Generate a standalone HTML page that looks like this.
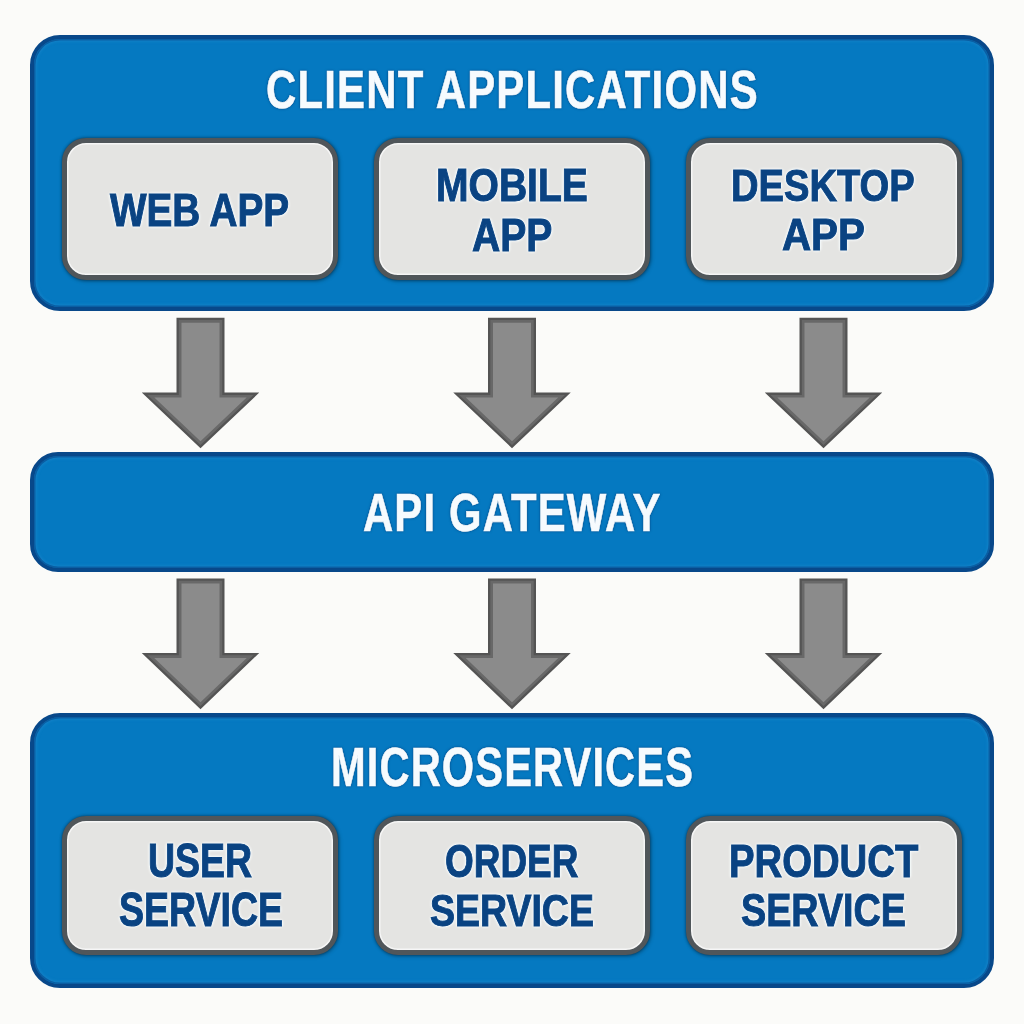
<!DOCTYPE html>
<html><head><meta charset="utf-8"><style>
html,body{margin:0;padding:0;width:1024px;height:1024px;overflow:hidden;background:#fbfbf9;}
.abs{position:absolute;box-sizing:border-box;}
.big{position:absolute;box-sizing:border-box;background:#0579c1;border:4px solid #08488a;box-shadow:inset 0 0 0 1.5px #0a5ea3, inset 0 0 3px 2.5px rgba(60,160,225,0.25);}
.card{position:absolute;box-sizing:border-box;background:#e4e4e2;border:5px solid #50565a;border-radius:24px;
  box-shadow:0 0 3px rgba(0,0,0,0.45), 1px 1px 4px rgba(0,0,0,0.3), inset 0 0 0 1.5px #f6f6f6;}
.t{position:absolute;font-family:"Liberation Sans",sans-serif;font-weight:bold;line-height:1;white-space:nowrap;transform-origin:0 0;}
svg{position:absolute;left:0;top:0;}
</style></head><body>
<div class="big" style="left:30px;top:35px;width:964px;height:276px;border-radius:30px;"></div>
<div class="card" style="left:62px;top:138px;width:276px;height:142px;"></div>
<div class="card" style="left:374px;top:138px;width:276px;height:142px;"></div>
<div class="card" style="left:686px;top:138px;width:276px;height:142px;"></div>
<div class="big" style="left:30px;top:452px;width:964px;height:120px;border-radius:28px;"></div>
<div class="big" style="left:30px;top:713px;width:964px;height:275px;border-radius:30px;"></div>
<div class="card" style="left:62px;top:816px;width:276px;height:139px;"></div>
<div class="card" style="left:374px;top:816px;width:276px;height:139px;"></div>
<div class="card" style="left:686px;top:816px;width:276px;height:139px;"></div>
<svg width="1024" height="1024" viewBox="0 0 1024 1024">
<polygon points="176.50,317.80 224.50,317.80 224.50,392.60 259.25,392.60 200.50,448.20 141.75,392.60 176.50,392.60" fill="#545454"/><polygon points="178.80,320.10 222.20,320.10 222.20,394.90 253.47,394.90 200.50,445.03 147.53,394.90 178.80,394.90" fill="#686868"/><polygon points="181.50,322.80 219.50,322.80 219.50,397.60 246.69,397.60 200.50,441.32 154.31,397.60 181.50,397.60" fill="#8b8b8b"/>
<polygon points="488.00,317.80 536.00,317.80 536.00,392.60 570.75,392.60 512.00,448.20 453.25,392.60 488.00,392.60" fill="#545454"/><polygon points="490.30,320.10 533.70,320.10 533.70,394.90 564.97,394.90 512.00,445.03 459.03,394.90 490.30,394.90" fill="#686868"/><polygon points="493.00,322.80 531.00,322.80 531.00,397.60 558.19,397.60 512.00,441.32 465.81,397.60 493.00,397.60" fill="#8b8b8b"/>
<polygon points="799.50,317.80 847.50,317.80 847.50,392.60 882.25,392.60 823.50,448.20 764.75,392.60 799.50,392.60" fill="#545454"/><polygon points="801.80,320.10 845.20,320.10 845.20,394.90 876.47,394.90 823.50,445.03 770.53,394.90 801.80,394.90" fill="#686868"/><polygon points="804.50,322.80 842.50,322.80 842.50,397.60 869.69,397.60 823.50,441.32 777.31,397.60 804.50,397.60" fill="#8b8b8b"/>
<polygon points="176.50,578.50 224.50,578.50 224.50,653.00 259.25,653.00 200.50,709.30 141.75,653.00 176.50,653.00" fill="#545454"/><polygon points="178.80,580.80 222.20,580.80 222.20,655.30 253.53,655.30 200.50,706.11 147.47,655.30 178.80,655.30" fill="#686868"/><polygon points="181.50,583.50 219.50,583.50 219.50,658.00 246.81,658.00 200.50,702.37 154.19,658.00 181.50,658.00" fill="#8b8b8b"/>
<polygon points="488.00,578.50 536.00,578.50 536.00,653.00 570.75,653.00 512.00,709.30 453.25,653.00 488.00,653.00" fill="#545454"/><polygon points="490.30,580.80 533.70,580.80 533.70,655.30 565.03,655.30 512.00,706.11 458.97,655.30 490.30,655.30" fill="#686868"/><polygon points="493.00,583.50 531.00,583.50 531.00,658.00 558.31,658.00 512.00,702.37 465.69,658.00 493.00,658.00" fill="#8b8b8b"/>
<polygon points="799.50,578.50 847.50,578.50 847.50,653.00 882.25,653.00 823.50,709.30 764.75,653.00 799.50,653.00" fill="#545454"/><polygon points="801.80,580.80 845.20,580.80 845.20,655.30 876.53,655.30 823.50,706.11 770.47,655.30 801.80,655.30" fill="#686868"/><polygon points="804.50,583.50 842.50,583.50 842.50,658.00 869.81,658.00 823.50,702.37 777.19,658.00 804.50,658.00" fill="#8b8b8b"/>
</svg>
<div class="t" style="left:266.06px;top:62.78px;font-size:53.38px;letter-spacing:1.5px;transform:scaleX(0.7854);color:#f6fbfe;-webkit-text-stroke:0.6px #f6fbfe;text-shadow:0 0 2px rgba(0,45,100,0.8), 0 0 3px rgba(0,45,100,0.5);filter:blur(0.35px);">CLIENT APPLICATIONS</div>
<div class="t" style="left:362.58px;top:485.65px;font-size:53.89px;letter-spacing:1.5px;transform:scaleX(0.7764);color:#f6fbfe;-webkit-text-stroke:0.6px #f6fbfe;text-shadow:0 0 2px rgba(0,45,100,0.8), 0 0 3px rgba(0,45,100,0.5);filter:blur(0.35px);">API GATEWAY</div>
<div class="t" style="left:331.01px;top:739.93px;font-size:55.74px;letter-spacing:1.5px;transform:scaleX(0.7469);color:#f6fbfe;-webkit-text-stroke:0.6px #f6fbfe;text-shadow:0 0 2px rgba(0,45,100,0.8), 0 0 3px rgba(0,45,100,0.5);filter:blur(0.35px);">MICROSERVICES</div>
<div class="t" style="left:110.43px;top:188.21px;font-size:45.31px;letter-spacing:0px;transform:scaleX(0.8541);color:#0a4382;-webkit-text-stroke:1.0px #0a4382;text-shadow:0 0 2px #f8fcff, 0 0 2px #f8fcff, 0 0 3px #f8fcff, 0 0 4px #f4faff, 0 0 4px #f4faff;filter:blur(0.35px);">WEB APP</div>
<div class="t" style="left:436.19px;top:162.94px;font-size:45.55px;letter-spacing:0px;transform:scaleX(0.8575);color:#0a4382;-webkit-text-stroke:1.0px #0a4382;text-shadow:0 0 2px #f8fcff, 0 0 2px #f8fcff, 0 0 3px #f8fcff, 0 0 4px #f4faff, 0 0 4px #f4faff;filter:blur(0.35px);">MOBILE</div>
<div class="t" style="left:471.65px;top:213.30px;font-size:45.84px;letter-spacing:0px;transform:scaleX(0.8523);color:#0a4382;-webkit-text-stroke:1.0px #0a4382;text-shadow:0 0 2px #f8fcff, 0 0 2px #f8fcff, 0 0 3px #f8fcff, 0 0 4px #f4faff, 0 0 4px #f4faff;filter:blur(0.35px);">APP</div>
<div class="t" style="left:731.05px;top:163.27px;font-size:45.23px;letter-spacing:0px;transform:scaleX(0.8434);color:#0a4382;-webkit-text-stroke:1.0px #0a4382;text-shadow:0 0 2px #f8fcff, 0 0 2px #f8fcff, 0 0 3px #f8fcff, 0 0 4px #f4faff, 0 0 4px #f4faff;filter:blur(0.35px);">DESKTOP</div>
<div class="t" style="left:781.74px;top:213.43px;font-size:44.97px;letter-spacing:0px;transform:scaleX(0.8962);color:#0a4382;-webkit-text-stroke:1.0px #0a4382;text-shadow:0 0 2px #f8fcff, 0 0 2px #f8fcff, 0 0 3px #f8fcff, 0 0 4px #f4faff, 0 0 4px #f4faff;filter:blur(0.35px);">APP</div>
<div class="t" style="left:147.95px;top:837.28px;font-size:47.27px;letter-spacing:0px;transform:scaleX(0.7928);color:#0a4382;-webkit-text-stroke:1.0px #0a4382;text-shadow:0 0 2px #f8fcff, 0 0 2px #f8fcff, 0 0 3px #f8fcff, 0 0 4px #f4faff, 0 0 4px #f4faff;filter:blur(0.35px);">USER</div>
<div class="t" style="left:118.77px;top:886.46px;font-size:47.16px;letter-spacing:0px;transform:scaleX(0.7955);color:#0a4382;-webkit-text-stroke:1.0px #0a4382;text-shadow:0 0 2px #f8fcff, 0 0 2px #f8fcff, 0 0 3px #f8fcff, 0 0 4px #f4faff, 0 0 4px #f4faff;filter:blur(0.35px);">SERVICE</div>
<div class="t" style="left:445.01px;top:837.20px;font-size:47.12px;letter-spacing:0px;transform:scaleX(0.7838);color:#0a4382;-webkit-text-stroke:1.0px #0a4382;text-shadow:0 0 2px #f8fcff, 0 0 2px #f8fcff, 0 0 3px #f8fcff, 0 0 4px #f4faff, 0 0 4px #f4faff;filter:blur(0.35px);">ORDER</div>
<div class="t" style="left:429.79px;top:888.95px;font-size:44.93px;letter-spacing:0px;transform:scaleX(0.8347);color:#0a4382;-webkit-text-stroke:1.0px #0a4382;text-shadow:0 0 2px #f8fcff, 0 0 2px #f8fcff, 0 0 3px #f8fcff, 0 0 4px #f4faff, 0 0 4px #f4faff;filter:blur(0.35px);">SERVICE</div>
<div class="t" style="left:728.83px;top:837.83px;font-size:46.70px;letter-spacing:0px;transform:scaleX(0.8199);color:#0a4382;-webkit-text-stroke:1.0px #0a4382;text-shadow:0 0 2px #f8fcff, 0 0 2px #f8fcff, 0 0 3px #f8fcff, 0 0 4px #f4faff, 0 0 4px #f4faff;filter:blur(0.35px);">PRODUCT</div>
<div class="t" style="left:741.18px;top:887.86px;font-size:45.51px;letter-spacing:0px;transform:scaleX(0.8292);color:#0a4382;-webkit-text-stroke:1.0px #0a4382;text-shadow:0 0 2px #f8fcff, 0 0 2px #f8fcff, 0 0 3px #f8fcff, 0 0 4px #f4faff, 0 0 4px #f4faff;filter:blur(0.35px);">SERVICE</div>
</body></html>
